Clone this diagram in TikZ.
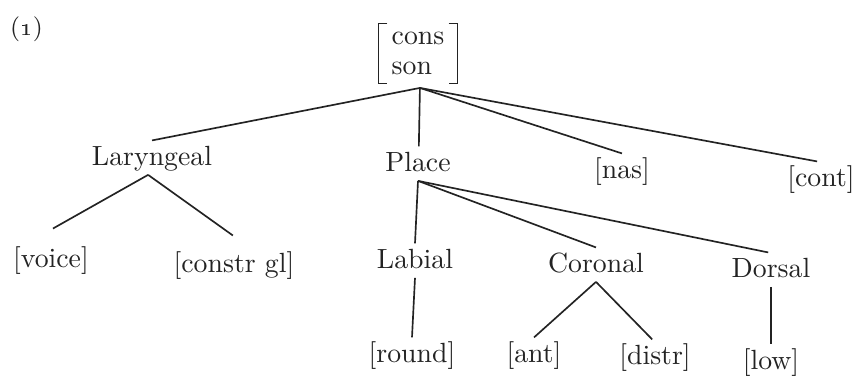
\documentclass[tikz,border=0pt]{standalone}
\definecolor{ink}{RGB}{35,35,35}
\begin{document}
\begin{tikzpicture}[x=0.36pt,y=-0.36pt,
  lbl/.style={inner xsep=0pt, inner ysep=1.8pt, text height=7.2pt, text depth=1.2pt, anchor=base, text=ink},
  edge/.style={draw=ink, line width=0.6pt},
  brk/.style={draw=ink, line width=0.6pt}]
\useasboundingbox (0,0) rectangle (858,376);
\node[anchor=base, text=ink, font=\small, inner sep=0pt] (num) at (26.5,36) {(\oldstylenums{1})};
\node[minimum width=28pt, minimum height=21.2pt, inner sep=0pt, align=left, text=ink] (root) at (418,53.5) {cons\\[-1.2pt]son};
\draw[brk] ([xshift=3.2pt]root.north west) -- (root.north west) -- (root.south west) -- ([xshift=3.2pt]root.south west);
\draw[brk] ([xshift=-3.2pt]root.north east) -- (root.north east) -- (root.south east) -- ([xshift=-3.2pt]root.south east);

\node[lbl] (lar) at (152,166) {Laryngeal};
\node[lbl] (place) at (418,172) {Place};
\node[lbl] (nas) at (622,179) {[nas]};
\node[lbl] (cont) at (821,187) {[cont]};
\node[lbl] (voice) at (51,268) {[voice]};
\node[lbl] (constr) at (234,273) {[constr gl]};
\node[lbl] (labial) at (415,269) {Labial};
\node[lbl] (coronal) at (596,273) {Coronal};
\node[lbl] (dorsal) at (771,278) {Dorsal};
\node[lbl] (round) at (412,363) {[round]};
\node[lbl] (ant) at (534,363) {[ant]};
\node[lbl] (distr) at (655,365) {[distr]};
\node[lbl] (low) at (771,370) {[low]};

\draw[edge] ([xshift=0.7pt,yshift=-1.6pt]root.south) -- (lar.north);
\draw[edge] ([xshift=0.7pt,yshift=-1.6pt]root.south) -- ([xshift=0.3pt]place.north);
\draw[edge] ([xshift=0.7pt,yshift=-1.6pt]root.south) -- (nas.north);
\draw[edge] ([xshift=0.7pt,yshift=-1.6pt]root.south) -- ([xshift=-1.4pt]cont.north);
\draw[edge] ([xshift=-1.4pt]lar.south) -- ([xshift=0.7pt,yshift=5pt]voice.north);
\draw[edge] ([xshift=-1.4pt]lar.south) -- ([xshift=-0.4pt,yshift=4.3pt]constr.north);
\draw[edge] (place.south) -- (labial.north);
\draw[edge] (place.south) -- (coronal.north);
\draw[edge] (place.south) -- ([xshift=-1pt]dorsal.north);
\draw[edge] (labial.south) -- (round.north);
\draw[edge] (coronal.south) -- (ant.north);
\draw[edge] (coronal.south) -- ([xshift=-1pt]distr.north);
\draw[edge] (dorsal.south) -- (low.north);
\end{tikzpicture}
\end{document}
